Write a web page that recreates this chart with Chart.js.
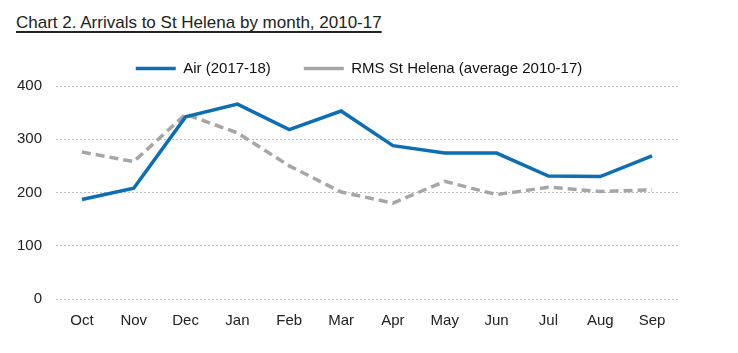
<!DOCTYPE html>
<html>
<head>
<meta charset="utf-8">
<script src="https://cdn.jsdelivr.net/npm/chart.js@4"></script>
<style>
  body { margin: 0; background: #fff; }
  #title {
    position: absolute; left: 16px; top: 13px;
    font: 17px "Liberation Sans", Arial, sans-serif; color: #222;
    text-decoration: underline; text-decoration-thickness: 2px; text-underline-offset: 3px;
    text-decoration-skip-ink: none;
  }
  #wrap { position: absolute; left: 0; top: 0; width: 738px; height: 353px; }
</style>
</head>
<body>
<div id="title">Chart 2. Arrivals to St Helena by month, 2010-17</div>
<div id="wrap"><canvas id="arrivalsChart"></canvas></div>
<script>
const months = ['Oct', 'Nov', 'Dec', 'Jan', 'Feb', 'Mar', 'Apr', 'May', 'Jun', 'Jul', 'Aug', 'Sep'];
const airArrivals = [187, 208, 342, 366, 318, 353, 288, 274, 274, 231, 230, 269];
const rmsArrivals = [276, 258, 347, 312, 250, 201, 180, 221, 196, 210, 202, 205];
const yTicks = [0, 100, 200, 300, 400];

// keep the legend short and nudge it right, like the original
const legendTweak = {
    id: 'legendTweak',
    beforeInit(chart) {
        const fit = chart.legend.fit;
        chart.legend.fit = function() {
            fit.call(this);
            this.height = 58;
        };
    },
    afterLayout(chart) {
        chart.legend.left += 20;
        chart.legend.right += 20;
    }
};

document.addEventListener('DOMContentLoaded', function() {
    Chart.defaults.font.family = '"Liberation Sans", Arial, sans-serif';
    Chart.defaults.color = '#222';
    const ctx = document.getElementById('arrivalsChart').getContext('2d');
    new Chart(ctx, {
        type: 'line',
        data: {
            labels: months,
            datasets: [{
                label: 'Air (2017-18)',
                data: airArrivals,
                borderColor: 'rgb(14, 110, 180)',
                backgroundColor: 'rgb(14, 110, 180)',
                borderWidth: 3.5,
                pointRadius: 0,
                tension: 0
            }, {
                label: 'RMS St Helena (average 2010-17)',
                data: rmsArrivals,
                borderColor: 'rgb(166, 166, 166)',
                backgroundColor: 'rgb(166, 166, 166)',
                borderWidth: 3.5,
                borderDash: [9, 5],
                pointRadius: 0,
                tension: 0
            }]
        },
        options: {
            responsive: true,
            maintainAspectRatio: false,
            animation: false,
            layout: { padding: { top: 28, right: 60, bottom: 10, left: 0 } },
            plugins: {
                legend: {
                    labels: {
                        usePointStyle: true,
                        pointStyle: 'line',
                        pointStyleWidth: 40,
                        padding: 33,
                        font: { size: 15 },
                        color: '#111'
                    }
                },
                tooltip: { enabled: false }
            },
            scales: {
                x: {
                    offset: true,
                    grid: { display: false, drawTicks: false },
                    border: { display: false },
                    ticks: { font: { size: 15 }, padding: 13, maxRotation: 0 }
                },
                y: {
                    min: 0,
                    max: 400,
                    afterBuildTicks: function(scale) { scale.ticks = yTicks.map(v => ({ value: v })); },
                    afterFit: function(scale) { scale.width = 56; },
                    grid: { color: '#bdbdbd', lineWidth: 1, drawTicks: false },
                    border: { display: false, dash: [2, 2] },
                    ticks: { font: { size: 15 }, padding: 14 }
                }
            }
        },
        plugins: [legendTweak]
    });
});
</script>
</body>
</html>
